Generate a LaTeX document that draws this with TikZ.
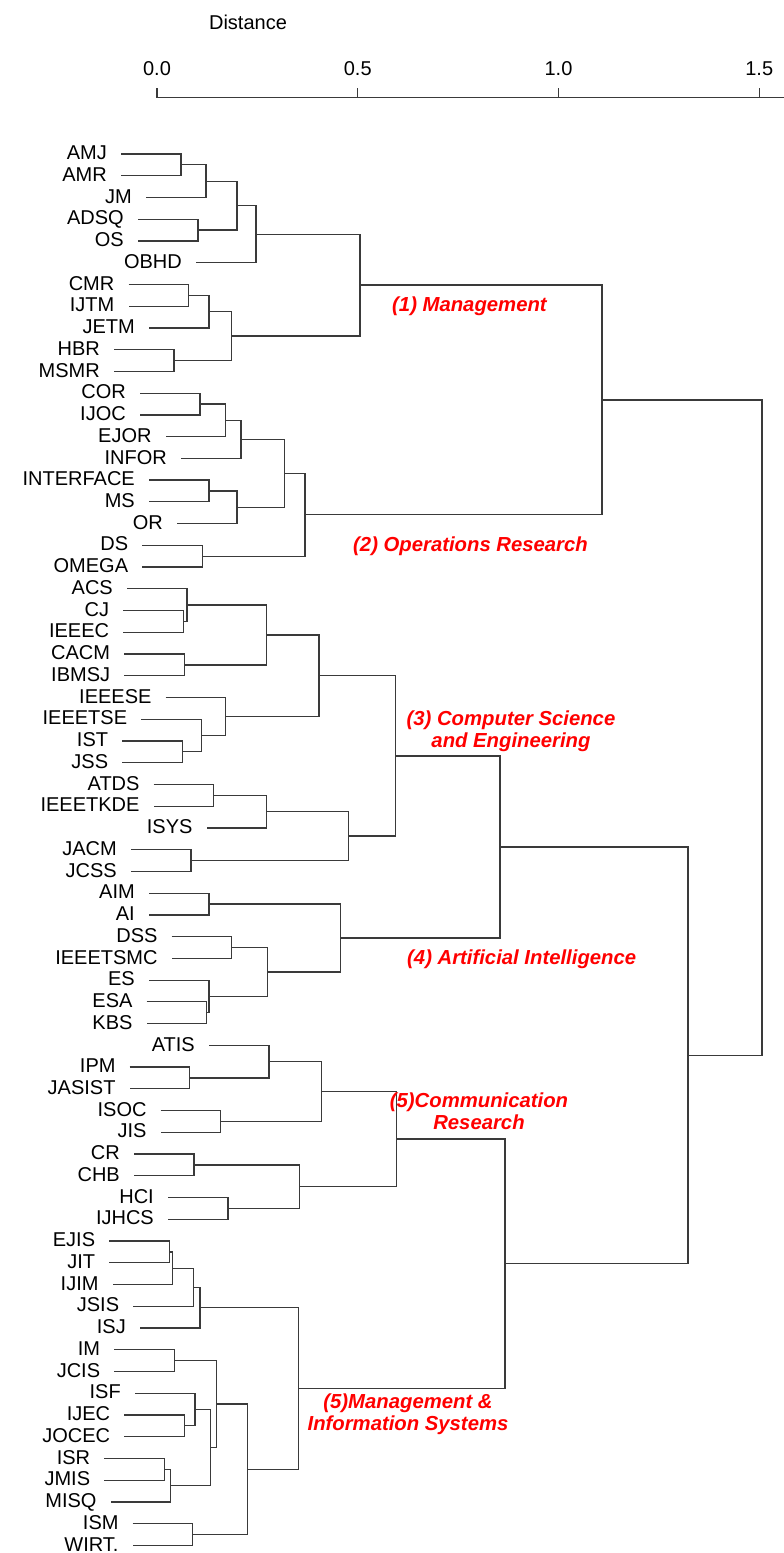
\documentclass[tikz,border=0pt]{standalone}
\usepackage{fontspec}
\setmainfont{Liberation Sans}
\usetikzlibrary{calc}
\definecolor{treegray}{HTML}{3A3A3A}
\definecolor{groupred}{HTML}{FF0000}
\tikzset{
  branch/.style={draw=treegray, line width=1.25pt},
  leaf/.style={anchor=east, inner xsep=14pt, inner ysep=0pt, text height=14.3pt, text depth=3pt, font=\fontsize{20}{22}\selectfont},
  ticklabel/.style={inner sep=0pt, font=\fontsize{20}{22}\selectfont},
  grouplabel/.style={text=groupred, align=center, inner sep=0pt, font=\fontsize{20.3}{22}\selectfont\bfseries\itshape},
}
% 合并两个子簇: 名称, 距离位置, 子簇 a, 子簇 b
\newcommand{\linkpair}[4]{%
  \path let \p1=(#3), \p2=(#4) in ({#2},{(\y1+\y2)/2}) coordinate (#1);
  \draw[branch] (#3) -- (#3 -| #1) -- (#4 -| #1) -- (#4);
}
\begin{document}
\begin{tikzpicture}[x=1pt, y=1pt]
    \useasboundingbox (0,0) rectangle (784,-1553);

    % 坐标轴
    \node[ticklabel] (title) at (248,-22) {Distance};
    \draw[branch] (157,-97.5) -- (784,-97.5);
    \foreach \v/\t [count=\k] in {0/0.0, 0.5/0.5, 1/1.0, 1.5/1.5} {
        \draw[branch] ({157+401.5*\v},-97.5) -- ++(0,10);
        \node[ticklabel] (tick\k) at ({157+401.5*\v},-69) {\t};
    }

    % 叶节点 (期刊)
    \foreach \nm/\lab/\sx [count=\i from 0] in {
        amj/AMJ/121, amr/AMR/121, jm/JM/146, adsq/ADSQ/138, os/OS/138, obhd/OBHD/196,
        cmr/CMR/128.5, ijtm/IJTM/128.5, jetm/JETM/149, hbr/HBR/114, msmr/MSMR/114,
        cor/COR/140, ijoc/IJOC/140, ejor/EJOR/165.7, infor/INFOR/181,
        interface/INTERFACE/149, ms/MS/149, or/OR/177, ds/DS/142.3, omega/OMEGA/142.3,
        acs/ACS/127, cj/CJ/123.3, ieeec/IEEEC/123.3, cacm/CACM/124.3, ibmsj/IBMSJ/124.3,
        ieeese/IEEESE/165.7, ieeetse/IEEETSE/141.3, ist/IST/122.3, jss/JSS/122.3,
        atds/ATDS/153.7, ieeetkde/IEEETKDE/153.7, isys/ISYS/206.7, jacm/JACM/131, jcss/JCSS/131,
        aim/AIM/149, ai/AI/149, dss/DSS/171.7, ieeetsmc/IEEETSMC/171.7, es/ES/149, esa/ESA/146.7, kbs/KBS/146.7,
        atis/ATIS/209, ipm/IPM/129.7, jasist/JASIST/129.7, isoc/ISOC/160.7, jis/JIS/160.7,
        cr/CR/134, chb/CHB/134, hci/HCI/168, ijhcs/IJHCS/168,
        ejis/EJIS/109.3, jit/JIT/109.3, ijim/IJIM/112.7, jsis/JSIS/133.3, isj/ISJ/140,
        im/IM/114.3, jcis/JCIS/114.3, isf/ISF/135, ijec/IJEC/124.3, jocec/JOCEC/124.3,
        isr/ISR/104.3, jmis/JMIS/104.3, misq/MISQ/110.7, ism/ISM/132.7, wirt/WIRT./132.7}
        \node[leaf] (\nm) at (\sx, {-154-21.74*\i}) {\lab};

    % 聚类 (1) Management
    \linkpair{j1a}{181}{amj}{amr}
    \linkpair{j1b}{206}{j1a}{jm}
    \linkpair{j1c}{198}{adsq}{os}
    \linkpair{j1d}{237}{j1b}{j1c}
    \linkpair{j1e}{256}{j1d}{obhd}
    \linkpair{j1f}{188.5}{cmr}{ijtm}
    \linkpair{j1g}{209}{j1f}{jetm}
    \linkpair{j1h}{174}{hbr}{msmr}
    \linkpair{j1i}{231.5}{j1g}{j1h}
    \linkpair{mgmt}{360}{j1e}{j1i}

    % 聚类 (2) Operations Research
    \linkpair{j2a}{200}{cor}{ijoc}
    \linkpair{j2b}{225.7}{j2a}{ejor}
    \linkpair{j2c}{241}{j2b}{infor}
    \linkpair{j2d}{209}{interface}{ms}
    \linkpair{j2e}{237}{j2d}{or}
    \linkpair{j2f}{284.3}{j2c}{j2e}
    \linkpair{j2g}{202.3}{ds}{omega}
    \linkpair{opres}{305}{j2f}{j2g}
    \linkpair{top12}{602}{mgmt}{opres}

    % 聚类 (3) Computer Science and Engineering
    \linkpair{j3a}{183.3}{cj}{ieeec}
    \linkpair{j3b}{187}{acs}{j3a}
    \linkpair{j3c}{184.3}{cacm}{ibmsj}
    \linkpair{j3d}{266.3}{j3b}{j3c}
    \linkpair{j3e}{182.3}{ist}{jss}
    \linkpair{j3f}{201.3}{ieeetse}{j3e}
    \linkpair{j3g}{225.7}{ieeese}{j3f}
    \linkpair{j3h}{319}{j3d}{j3g}
    \linkpair{j3i}{213.7}{atds}{ieeetkde}
    \linkpair{j3j}{266.7}{j3i}{isys}
    \linkpair{j3k}{191}{jacm}{jcss}
    \linkpair{j3l}{348.3}{j3j}{j3k}
    \linkpair{cse}{395.7}{j3h}{j3l}

    % 聚类 (4) Artificial Intelligence
    \linkpair{j4a}{209}{aim}{ai}
    \linkpair{j4b}{231.7}{dss}{ieeetsmc}
    \linkpair{j4c}{206.7}{esa}{kbs}
    \linkpair{j4d}{209}{es}{j4c}
    \linkpair{j4e}{267.7}{j4b}{j4d}
    \linkpair{artint}{340.7}{j4a}{j4e}
    \linkpair{top34}{500}{cse}{artint}

    % 聚类 (5) Communication Research
    \linkpair{j5a}{189.7}{ipm}{jasist}
    \linkpair{j5b}{269}{atis}{j5a}
    \linkpair{j5c}{220.7}{isoc}{jis}
    \linkpair{j5d}{321.7}{j5b}{j5c}
    \linkpair{j5e}{194}{cr}{chb}
    \linkpair{j5f}{228}{hci}{ijhcs}
    \linkpair{j5g}{299.7}{j5e}{j5f}
    \linkpair{comm}{396.7}{j5d}{j5g}

    % 聚类 (5) Management & Information Systems
    \linkpair{j6a}{169.3}{ejis}{jit}
    \linkpair{j6b}{172.7}{j6a}{ijim}
    \linkpair{j6c}{193.3}{j6b}{jsis}
    \linkpair{j6d}{200}{j6c}{isj}
    \linkpair{j6e}{174.3}{im}{jcis}
    \linkpair{j6f}{184.3}{ijec}{jocec}
    \linkpair{j6g}{195}{isf}{j6f}
    \linkpair{j6h}{164.3}{isr}{jmis}
    \linkpair{j6i}{170.7}{j6h}{misq}
    \linkpair{j6j}{210.3}{j6g}{j6i}
    \linkpair{j6k}{216.7}{j6e}{j6j}
    \linkpair{j6l}{192.7}{ism}{wirt}
    \linkpair{j6m}{247.3}{j6k}{j6l}
    \linkpair{mis}{298.3}{j6d}{j6m}
    \linkpair{top56}{505}{comm}{mis}

    % 顶层合并
    \linkpair{top3456}{688}{top34}{top56}
    \linkpair{root}{762}{top12}{top3456}

    % 聚类标签
    \node[grouplabel, anchor=west] (lab1) at (392,-306) {(1) Management};
    \node[grouplabel, anchor=west] (lab2) at (353,-546) {(2) Operations Research};
    \node[grouplabel] (lab3) at (511,-731) {(3) Computer Science\\and Engineering};
    \node[grouplabel, anchor=west] (lab4) at (407,-959) {(4) Artificial Intelligence};
    \node[grouplabel] (lab5) at (479,-1111) {(5)Communication\\Research};
    \node[grouplabel] (lab6) at (408,-1414) {(5)Management \&\\Information Systems};
\end{tikzpicture}
\end{document}
